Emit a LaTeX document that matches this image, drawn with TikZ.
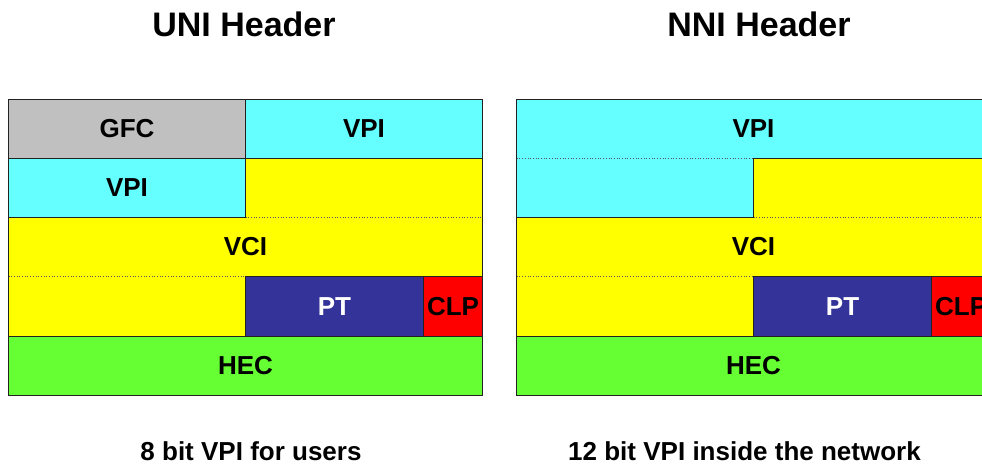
\documentclass[tikz,border=0pt]{standalone}
\usepackage{fontspec}
\setmainfont{Liberation Sans}
\definecolor{cgray}{HTML}{C0C0C0}
\definecolor{ccyan}{HTML}{66FFFF}
\definecolor{cyell}{HTML}{FFFF00}
\definecolor{cblue}{HTML}{333399}
\definecolor{cred}{HTML}{FF0000}
\definecolor{cgreen}{HTML}{66FF33}
\definecolor{edge}{HTML}{222222}
\tikzset{
  solidline/.style={draw=edge, line width=0.9pt},
  dotline/.style={draw=gray!70!black, line width=0.7pt, dotted},
  celltext/.style={font=\fontsize{26}{28}\selectfont\bfseries, inner sep=0pt, anchor=center},
  titletext/.style={font=\fontsize{34}{36}\selectfont\bfseries, inner sep=0pt, anchor=base},
  notetext/.style={font=\fontsize{26}{28}\selectfont\bfseries, inner sep=0pt, anchor=base},
}
\begin{document}
\begin{tikzpicture}[x=1pt,y=-1pt]
\useasboundingbox (0,0) rectangle (982,464);
% ---------- UNI ----------
\def\ax{8.5}\def\as{245.5}\def\ac{423.5}\def\ab{482.5}
\fill[cgray] (\ax,99) rectangle (\as,158.5);
\fill[ccyan] (\as,99) rectangle (\ab,158.5);
\fill[ccyan] (\ax,158.5) rectangle (\as,217.5);
\fill[cyell] (\as,158.5) -- (\ab,158.5) -- (\ab,276.5) -- (\as,276.5) -- (\as,336) -- (\ax,336) -- (\ax,217.5) -- (\as,217.5) -- cycle;
\fill[cblue] (\as,276.5) rectangle (\ac,336);
\fill[cred] (\ac,276.5) rectangle (\ab,336);
\fill[cgreen] (\ax,336) rectangle (\ab,395);
\draw[dotline] (\as,217.5) -- (\ab,217.5);
\draw[dotline] (\ax,276.5) -- (\as,276.5);
\draw[solidline] (\ax,99) rectangle (\ab,395);
\draw[solidline] (\ax,158.5) -- (\ab,158.5);
\draw[solidline] (\as,99) -- (\as,217.5) -- (\ax,217.5);
\draw[solidline] (\as,336) -- (\as,276.5) -- (\ab,276.5);
\draw[solidline] (\ac,276.5) -- (\ac,336);
\draw[solidline] (\ax,336) -- (\ab,336);
\node[celltext] (ugfc) at (127,129) {GFC};
\node[celltext] (uvpia) at (364,129) {VPI};
\node[celltext] (uvpib) at (127,188) {VPI};
\node[celltext] (uvci) at (245.5,247) {VCI};
\node[celltext, text=white] (upt) at (334.5,307) {PT};
\node[celltext] (uclp) at (453,307) {CLP};
\node[celltext] (uhec) at (245.5,366) {HEC};
\node[titletext] (utitle) at (244,36) {UNI Header};
\node[notetext] (unote) at (251,460) {8 bit VPI for users};
% ---------- NNI ----------
\def\bx{516.7}\def\bs{753.5}\def\bc{931.7}\def\bb{990.7}
\fill[ccyan] (\bx,99) -- (\bb,99) -- (\bb,158.5) -- (\bs,158.5) -- (\bs,217.5) -- (\bx,217.5) -- cycle;
\fill[cyell] (\bs,158.5) -- (\bb,158.5) -- (\bb,276.5) -- (\bs,276.5) -- (\bs,336) -- (\bx,336) -- (\bx,217.5) -- (\bs,217.5) -- cycle;
\fill[cblue] (\bs,276.5) rectangle (\bc,336);
\fill[cred] (\bc,276.5) rectangle (\bb,336);
\fill[cgreen] (\bx,336) rectangle (\bb,395);
\draw[dotline] (\bx,158.5) -- (\bs,158.5);
\draw[dotline] (\bs,217.5) -- (\bb,217.5);
\draw[dotline] (\bx,276.5) -- (\bs,276.5);
\draw[solidline] (\bx,99) rectangle (\bb,395);
\draw[solidline] (\bb,158.5) -- (\bs,158.5) -- (\bs,217.5) -- (\bx,217.5);
\draw[solidline] (\bs,336) -- (\bs,276.5) -- (\bb,276.5);
\draw[solidline] (\bc,276.5) -- (\bc,336);
\draw[solidline] (\bx,336) -- (\bb,336);
\node[celltext] (nvpi) at (753.5,129) {VPI};
\node[celltext] (nvci) at (753.5,247) {VCI};
\node[celltext, text=white] (npt) at (842.6,307) {PT};
\node[celltext] (nclp) at (961.2,307) {CLP};
\node[celltext] (nhec) at (753.5,366) {HEC};
\node[titletext] (ntitle) at (759,36) {NNI Header};
\node[notetext] (nnote) at (744.5,460) {12 bit VPI inside the network};
\end{tikzpicture}
\end{document}
